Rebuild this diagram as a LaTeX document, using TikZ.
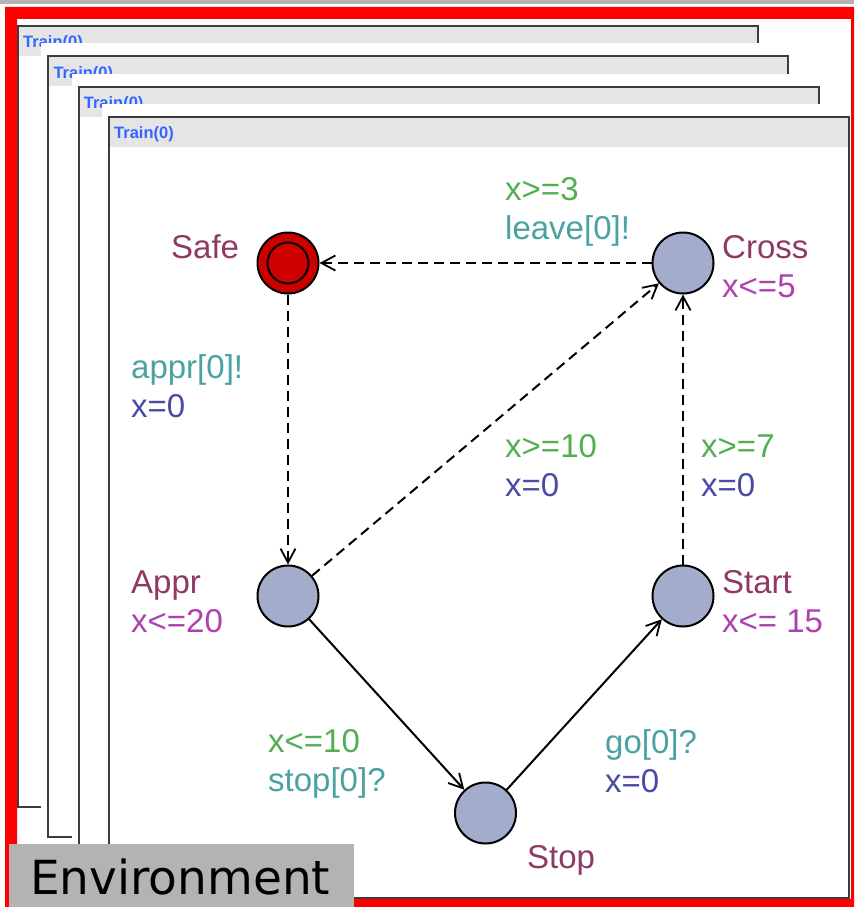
\documentclass[tikz,border=0pt]{standalone}
\usepackage{fontspec}
\usetikzlibrary{arrows.meta}
\newfontfamily\labfont{Liberation Sans}
\newfontfamily\envfont{DejaVu Sans}

\definecolor{namecol}{RGB}{143,58,100}
\definecolor{invcol}{RGB}{176,64,176}
\definecolor{guardcol}{RGB}{80,176,80}
\definecolor{synccol}{RGB}{74,163,163}
\definecolor{assigncol}{RGB}{74,74,168}
\definecolor{locfill}{RGB}{163,172,203}
\definecolor{initfill}{RGB}{204,0,0}
\definecolor{titlegray}{RGB}{229,229,229}
\definecolor{wingray}{RGB}{60,60,60}
\definecolor{framered}{RGB}{255,0,0}
\definecolor{envgray}{RGB}{179,179,179}
\definecolor{titleblue}{RGB}{51,102,255}

\tikzset{
  loc/.style={circle, draw=black, line width=2pt, fill=locfill, minimum size=61pt, inner sep=0pt},
  initloc/.style={loc, fill=initfill},
  lab/.style={font=\labfont\fontsize{33}{39}\selectfont, inner sep=0pt, anchor=base west},
  tipstyle/.style={-{Straight Barb[length=14pt,width=15pt,line width=1.8pt]}},
  solidedge/.style={draw=black, line width=2pt, tipstyle},
  dashededge/.style={solidedge, dash pattern=on 10pt off 6pt},
  winborder/.style={draw=wingray, line width=2.2pt},
  titletext/.style={font=\labfont\bfseries\fontsize{16.5}{17}\selectfont, text=titleblue, inner sep=0pt, anchor=base west},
}

\begin{document}
\begin{tikzpicture}[x=1pt,y=-1pt]
\path[use as bounding box, clip] (0,0) rectangle (854,907);
\fill[white] (0,0) rectangle (854,907);
% grey strip along the top edge
\fill[envgray] (0,0) rectangle (854,4);

% the stacked Train(0) windows
\foreach \i in {0,...,3}{
  \pgfmathsetmacro{\bx}{18+30.33*\i}
  \pgfmathsetmacro{\by}{26+30.33*\i}
  \fill[white] (\bx-7,\by-13) rectangle (\bx+741,\by+782);
  \fill[titlegray] (\bx,\by) rectangle (\bx+740,\by+30);
  \draw[winborder] (\bx,\by) rectangle (\bx+740,\by+781);
  \node[titletext] (title\i) at (\bx+5,\by+22) {Train(0)};
}

% red frame
\fill[framered, even odd rule] (5,7) rectangle (870,920) (17,19) rectangle (851,899);

% locations
\node[initloc] (safe)  at (288,263) {};
\draw[line width=2pt] (safe.center) circle (20.5pt);
\node[loc] (cross) at (683,263) {};
\node[loc] (appr)  at (288,596) {};
\node[loc] (start) at (683,596) {};
\node[loc] (stop)  at (485.5,813) {};

% edges
\draw[dashededge] (cross) -- (safe);
\draw[dashededge] (safe) -- (appr);
\draw[dashededge] (appr) -- (cross);
\draw[dashededge] (start) -- (cross);
\draw[solidedge] (appr) -- (stop);
\draw[solidedge] (stop) -- (start);

% location names and invariants
\node[lab, text=namecol] (nsafe) at (171,258) {Safe};
\node[lab, text=namecol] (ncross) at (722,258) {Cross};
\node[lab, text=invcol] (icross) at (722,297) {x<=5};
\node[lab, text=namecol] (nappr) at (131,593) {Appr};
\node[lab, text=invcol] (iappr) at (131,632) {x<=20};
\node[lab, text=namecol] (nstart) at (722,593) {Start};
\node[lab, text=invcol] (istart) at (722,632) {x<= 15};
\node[lab, text=namecol] (nstop) at (527,868) {Stop};

% edge labels
\node[lab, text=guardcol] (g1) at (505,200) {x>=3};
\node[lab, text=synccol] (s1) at (505,239) {leave[0]!};
\node[lab, text=synccol] (s2) at (131,378) {appr[0]!};
\node[lab, text=assigncol] (a2) at (131,417) {x=0};
\node[lab, text=guardcol] (g3) at (505,457) {x>=10};
\node[lab, text=assigncol] (a3) at (505,496) {x=0};
\node[lab, text=guardcol] (g4) at (701,457) {x>=7};
\node[lab, text=assigncol] (a4) at (701,496) {x=0};
\node[lab, text=guardcol] (g5) at (268,752) {x<=10};
\node[lab, text=synccol] (s5) at (268,791) {stop[0]?};
\node[lab, text=synccol] (s6) at (605,753) {go[0]?};
\node[lab, text=assigncol] (a6) at (605,792) {x=0};

% caption tab
\fill[envgray] (9,844) rectangle (354,910);
\node[font=\envfont\fontsize{47}{47}\selectfont, inner sep=0pt, anchor=base west] (env) at (30,894) {Environment};
\end{tikzpicture}
\end{document}
